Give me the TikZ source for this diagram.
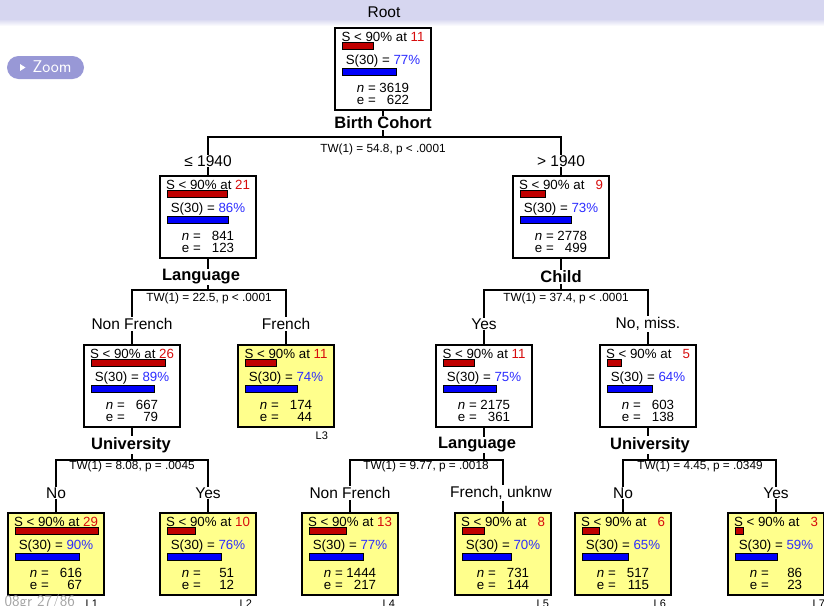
\documentclass[tikz,border=0pt]{standalone}
\usepackage{fontspec}
\setmainfont{Liberation Sans}
\usetikzlibrary{calc}

\definecolor{band}{RGB}{214,214,240}
\definecolor{btn}{RGB}{152,152,214}
\definecolor{leafyellow}{RGB}{255,255,140}
\definecolor{barred}{RGB}{192,0,0}
\definecolor{barblue}{RGB}{0,0,250}
\definecolor{numred}{RGB}{215,12,12}
\definecolor{numblue}{RGB}{45,45,255}
\definecolor{footgray}{RGB}{165,165,165}

\tikzset{
  edge/.style={line width=1.7pt, draw=black},
  survbox/.style={draw=black, line width=1.7pt, minimum width=96pt, minimum height=82pt, inner sep=0pt, anchor=north},
  innerbox/.style={survbox, fill=white},
  leafbox/.style={survbox, fill=leafyellow},
  boxtxt/.style={inner sep=0pt, font=\fontsize{13.3}{14}\selectfont},
  redbar/.style={fill=barred, draw=black, line width=0.8pt},
  bluebar/.style={fill=barblue, draw=black, line width=0.8pt},
  branchlab/.style={fill=white, inner sep=1pt, font=\fontsize{15.5}{16}\selectfont},
  splitlab/.style={fill=white, inner sep=1pt, font=\fontsize{16.5}{17}\selectfont\bfseries},
  testlab/.style={inner sep=0pt, font=\fontsize{11.8}{12}\selectfont},
  leaflab/.style={inner sep=0pt, font=\fontsize{11}{12}\selectfont},
  zoombtn/.style={fill=btn, rounded corners=11.5pt, minimum width=77pt, minimum height=23pt, inner sep=0pt},
  footer/.style={inner sep=0pt, text=footgray, font=\sffamily\fontsize{16}{17}\selectfont},
}

% #1 name, #2 style, #3 x, #4 top, #5 S text, #6 S number, #7 pct, #8 n, #9 e
\newcommand{\survnode}[9]{%
  \node[#2] (#1) at (#3,#4) {};
  \node[boxtxt] (#1-s) at ([yshift=-9.5pt]#1.north) {S < 90\% at \textcolor{numred}{#5}};
  \draw[redbar] ([xshift=-41pt,yshift=-15.5pt]#1.north) rectangle ++(2.86*#6,7);
  \node[boxtxt] (#1-p) at ([yshift=-34pt]#1.north) {S(30) = \textcolor{numblue}{#7\%}};
  \draw[bluebar] ([xshift=-41pt,yshift=-41.5pt]#1.north) rectangle ++(0.71*#7,6.5);
  \node[boxtxt] (#1-n) at ([yshift=-61pt]#1.north) {{\itshape n} = \makebox[2.224em][r]{#8}};
  \node[boxtxt] (#1-e) at ([yshift=-73pt]#1.north) {e = \makebox[2.224em][r]{#9}};
}

\begin{document}
\begin{tikzpicture}[x=1pt,y=-1pt]
\useasboundingbox (0,0) rectangle (824,605);

% title band
\fill[band] (0,-5) rectangle (824,19);
\shade[top color=band, bottom color=white] (0,19) rectangle (824,26);
\node[inner sep=0pt, font=\fontsize{15.5}{16}\selectfont] (roottitle) at (384,12) {Root};

% zoom button
\node[zoombtn] (zoom) at (45.5,67.5) {};
\fill[white] (20,64) -- (20,71) -- (25.5,67.5) -- cycle;
\node[inner sep=0pt, text=white, font=\sffamily\fontsize{17}{18}\selectfont] (zoomtxt) at (52,67) {Zoom};

% boxes
\survnode{root}{innerbox}{383}{27}{11}{11}{77}{3619}{622}
\survnode{le}{innerbox}{208}{175}{21}{21}{86}{841}{123}
\survnode{gt}{innerbox}{561}{175}{\phantom{0}9}{9}{73}{2778}{499}
\survnode{nonfr}{innerbox}{132}{344}{26}{26}{89}{667}{79}
\survnode{french}{leafbox}{286}{344}{11}{11}{74}{174}{44}
\survnode{yes}{innerbox}{484}{344}{11}{11}{75}{2175}{361}
\survnode{nomiss}{innerbox}{648}{344}{\phantom{0}5}{5}{64}{603}{138}
\survnode{L1}{leafbox}{56}{512}{29}{29}{90}{616}{67}
\survnode{L2}{leafbox}{208}{512}{10}{10}{76}{51}{12}
\survnode{L4}{leafbox}{350}{512}{13}{13}{77}{1444}{217}
\survnode{L5}{leafbox}{503}{512}{\phantom{0}8}{8}{70}{731}{144}
\survnode{L6}{leafbox}{623}{512}{\phantom{0}6}{6}{65}{517}{115}
\survnode{L7}{leafbox}{776}{512}{\phantom{0}3}{3}{59}{86}{23}

% edges
\coordinate (b0) at (383,137);
\coordinate (b1) at (0,290);
\coordinate (b2) at (0,460);
\draw[edge] (root.south) -- (root.south |- b0);
\draw[edge] (le.north) |- (gt.north |- b0) -- (gt.north);
\draw[edge] (le.south) -- (le.south |- b1);
\draw[edge] (nonfr.north) |- (french.north |- b1) -- (french.north);
\draw[edge] (gt.south) -- (gt.south |- b1);
\draw[edge] (yes.north) |- (nomiss.north |- b1) -- (nomiss.north);
\draw[edge] (nonfr.south) -- (nonfr.south |- b2);
\draw[edge] (L1.north) |- (L2.north |- b2) -- (L2.north);
\draw[edge] (yes.south) -- (yes.south |- b2);
\draw[edge] (L4.north) |- (L5.north |- b2) -- (L5.north);
\draw[edge] (nomiss.south) -- (nomiss.south |- b2);
\draw[edge] (L6.north) |- (L7.north |- b2) -- (L7.north);

% split labels and tests
\node[splitlab] (s0) at (383,123) {Birth Cohort};
\node[testlab] (t0) at (383,149) {TW(1) = 54.8, p < .0001};
\node[branchlab] (br1) at (208,161) {≤ 1940};
\node[branchlab] (br2) at (561,161) {> 1940};

\node[splitlab] (s1) at (201,277) {Language};
\node[testlab] (t1) at (209,298) {TW(1) = 22.5, p < .0001};
\node[splitlab] (s2) at (561,277) {Child};
\node[testlab] (t2) at (566,298) {TW(1) = 37.4, p < .0001};
\node[branchlab] (br3) at (132,324) {Non French};
\node[branchlab] (br4) at (286,324) {French};
\node[branchlab] (br5) at (484,324) {Yes};
\node[branchlab] (br6) at (648,324) {No, miss.};

\node[splitlab] (s3) at (131,445) {University};
\node[splitlab] (s4) at (477,445) {Language};
\node[splitlab] (s5) at (650,445) {University};
\node[testlab] (t3) at (132,466) {TW(1) = 8.08, p = .0045};
\node[testlab] (t4) at (426,466) {TW(1) = 9.77, p = .0018};
\node[testlab] (t5) at (700,466) {TW(1) = 4.45, p = .0349};
\node[branchlab] (br7) at (56,493) {No};
\node[branchlab] (br8) at (208,493) {Yes};
\node[branchlab] (br9) at (350,493) {Non French};
\node[branchlab] (br10) at (501,493) {French, unknw};
\node[branchlab] (br11) at (623,493) {No};
\node[branchlab] (br12) at (776,493) {Yes};

% leaf labels
\node[leaflab] (lab3) at ([xshift=-13pt,yshift=-8pt]french.south east) {L3};
\node[leaflab] (lab1) at ([xshift=-13pt,yshift=-8pt]L1.south east) {L1};
\node[leaflab] (lab2) at ([xshift=-11pt,yshift=-8pt]L2.south east) {L2};
\node[leaflab] (lab4) at ([xshift=-10pt,yshift=-8pt]L4.south east) {L4};
\node[leaflab] (lab5) at ([xshift=-9pt,yshift=-8pt]L5.south east) {L5};
\node[leaflab] (lab6) at ([xshift=-12pt,yshift=-8pt]L6.south east) {L6};
\node[leaflab] (lab7) at ([xshift=-6pt,yshift=-8pt]L7.south east) {L7};

% footer
\node[footer, anchor=base east] (foot) at (75,606) {08gr 27/86};
\end{tikzpicture}
\end{document}
